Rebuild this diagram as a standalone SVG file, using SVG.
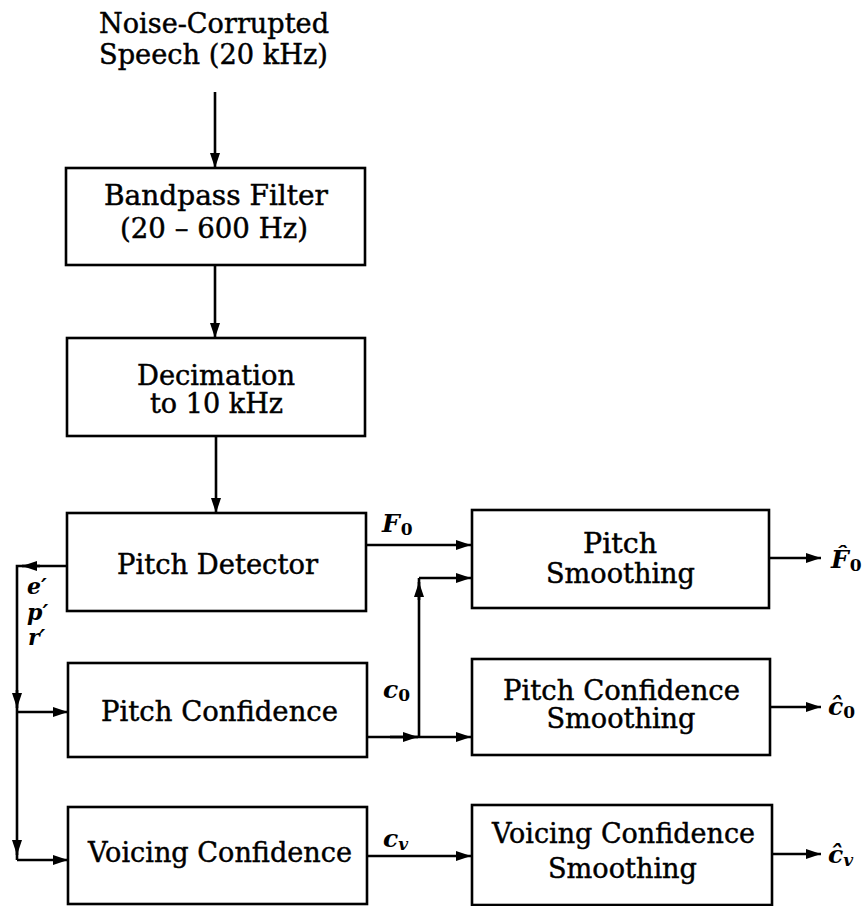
<svg xmlns="http://www.w3.org/2000/svg" width="868" height="906" viewBox="0 0 868 906">
  <style>
    .box { fill: #fff; stroke: #000; stroke-width: 2.6; }
    .lbl { font-family: "DejaVu Serif", "Liberation Serif", serif; font-size: 27px; fill: #000; stroke: #000; stroke-width: 0.45; text-anchor: middle; }
    .math { font-family: "DejaVu Serif", "Liberation Serif", serif; font-size: 25px; font-style: italic; font-weight: bold; fill: #000; }
    .bus { font-size: 22px; }
    .sub { font-size: 17px; }
    .up { font-style: normal; }
    .wire { fill: none; stroke: #000; stroke-width: 2.6; }
    .arr { fill: none; stroke: #000; stroke-width: 2.6; marker-end: url(#head); }
  </style>
  <defs>
    <marker id="head" viewBox="0 0 15 10" refX="15" refY="5" markerWidth="15" markerHeight="10" markerUnits="userSpaceOnUse" orient="auto">
      <path d="M0,0 L15,5 L0,10 Z" fill="#000"/>
    </marker>
  </defs>

  <rect width="868" height="906" fill="#fff"/>

  <!-- signal input label -->
  <g id="input">
    <text class="lbl" x="214" y="33" textLength="230" lengthAdjust="spacingAndGlyphs">Noise-Corrupted</text>
    <text class="lbl" x="213.5" y="64" textLength="229" lengthAdjust="spacingAndGlyphs">Speech (20 kHz)</text>
  </g>

  <g id="bandpass">
    <rect class="box" x="66" y="168" width="299" height="97"/>
    <text class="lbl" x="216" y="205" textLength="224" lengthAdjust="spacingAndGlyphs">Bandpass Filter</text>
    <text class="lbl" x="214" y="238" textLength="188" lengthAdjust="spacingAndGlyphs">(20 – 600 Hz)</text>
  </g>

  <g id="decimation">
    <rect class="box" x="67" y="338" width="298" height="98"/>
    <text class="lbl" x="216" y="385" textLength="158" lengthAdjust="spacingAndGlyphs">Decimation</text>
    <text class="lbl" x="216.5" y="413" textLength="133" lengthAdjust="spacingAndGlyphs">to 10 kHz</text>
  </g>

  <g id="pitch-detector">
    <rect class="box" x="67" y="513" width="299" height="98"/>
    <text class="lbl" x="217.5" y="574" textLength="201" lengthAdjust="spacingAndGlyphs">Pitch Detector</text>
  </g>

  <g id="pitch-confidence">
    <rect class="box" x="68" y="663" width="299" height="94"/>
    <text class="lbl" x="219.5" y="721" textLength="237" lengthAdjust="spacingAndGlyphs">Pitch Confidence</text>
  </g>

  <g id="voicing-confidence">
    <rect class="box" x="68" y="807" width="299" height="97"/>
    <text class="lbl" x="220" y="862" textLength="264" lengthAdjust="spacingAndGlyphs">Voicing Confidence</text>
  </g>

  <g id="pitch-smoothing">
    <rect class="box" x="472" y="510" width="297" height="98"/>
    <text class="lbl" x="620" y="553" textLength="74" lengthAdjust="spacingAndGlyphs">Pitch</text>
    <text class="lbl" x="620.5" y="583" textLength="149" lengthAdjust="spacingAndGlyphs">Smoothing</text>
  </g>

  <g id="pitch-confidence-smoothing">
    <rect class="box" x="472" y="659" width="298" height="96"/>
    <text class="lbl" x="621.5" y="700" textLength="237" lengthAdjust="spacingAndGlyphs">Pitch Confidence</text>
    <text class="lbl" x="621" y="728" textLength="149" lengthAdjust="spacingAndGlyphs">Smoothing</text>
  </g>

  <g id="voicing-confidence-smoothing">
    <rect class="box" x="472" y="805" width="300" height="100"/>
    <text class="lbl" x="623.5" y="843" textLength="263" lengthAdjust="spacingAndGlyphs">Voicing Confidence</text>
    <text class="lbl" x="622.5" y="878" textLength="149" lengthAdjust="spacingAndGlyphs">Smoothing</text>
  </g>

  <!-- connectors -->
  <g id="connectors">
    <path class="arr" d="M215,92 V168"/>
    <path class="arr" d="M215,265 V338"/>
    <path class="arr" d="M216,436 V513"/>

    <!-- feature bus on the left -->
    <path class="wire" d="M67,566 H17 V860"/>
    <path class="arr" d="M40,566 H22"/>
    <path class="arr" d="M17,690 V708"/>
    <path class="arr" d="M17,712 H68"/>
    <path class="arr" d="M17,840 V855"/>
    <path class="arr" d="M17,860 H68"/>

    <!-- pitch estimate -->
    <path class="arr" d="M366,545 H471"/>

    <!-- pitch confidence, split to both smoothers -->
    <path class="arr" d="M367,737 H471"/>
    <path class="arr" d="M390,737 H418"/>
    <path class="wire" d="M419,737 V578"/>
    <path class="arr" d="M419,600 V582"/>
    <path class="arr" d="M419,578 H471"/>

    <!-- voicing confidence -->
    <path class="arr" d="M367,856 H471"/>

    <!-- smoothed outputs -->
    <path class="arr" d="M769,558 H821"/>
    <path class="arr" d="M770,707 H821"/>
    <path class="arr" d="M772,854 H821"/>
  </g>

  <!-- signal labels -->
  <g id="labels">
    <text class="math bus" x="27" y="594">e′</text>
    <text class="math bus" x="27" y="620">p′</text>
    <text class="math bus" x="28" y="645">r′</text>

    <text class="math" x="382" y="532">F<tspan class="sub up" dx="1" dy="3">0</tspan></text>
    <text class="math" x="383" y="698">c<tspan class="sub up" dy="3">0</tspan></text>
    <text class="math" x="383" y="847">c<tspan class="sub" dy="3">v</tspan></text>

    <text class="math" x="831" y="568">F̂<tspan class="sub up" dx="1" dy="3">0</tspan></text>
    <text class="math" x="828" y="715">ĉ<tspan class="sub up" dy="3">0</tspan></text>
    <text class="math" x="828" y="863">ĉ<tspan class="sub" dy="3">v</tspan></text>
  </g>
</svg>
